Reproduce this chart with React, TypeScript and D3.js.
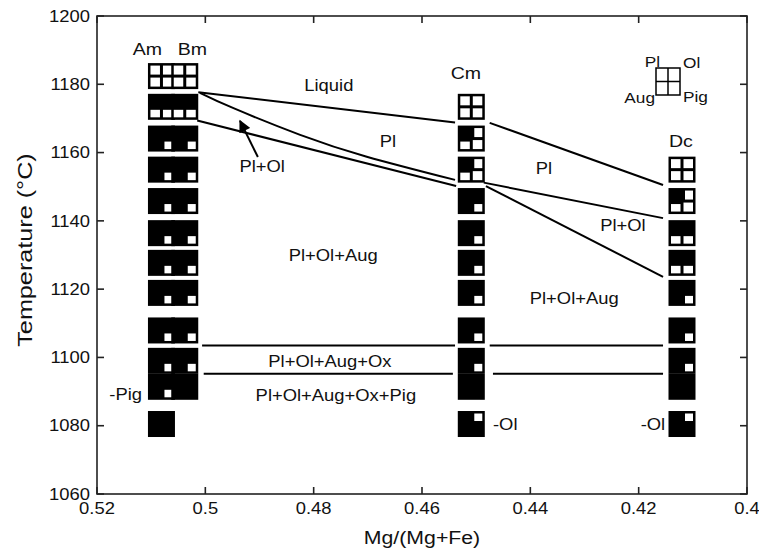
import React from 'react';
import * as d3 from 'd3';

const W = 759;
const H = 550;

const xTicks = [0.52, 0.5, 0.48, 0.46, 0.44, 0.42, 0.4];
const yTicks = [1060, 1080, 1100, 1120, 1140, 1160, 1180, 1200];

// run temperatures (°C), shared by all samples
const runTemps = [1182.4, 1173.4, 1164.1, 1155, 1145.8, 1136.4, 1127.7, 1118.9, 1107.9, 1099, 1091.4, 1080.5];

// phase flags per run: Pl Ol Aug Pig (1 = present), null = no run
const amRuns = ['0000', '1100', '1110', '1110', '1110', '1110', '1110', '1110', '1110', '1110', '1110', '1111'];
const bmRuns = ['0000', '1100', '1110', '1110', '1110', '1110', '1110', '1110', '1110', '1110', '1111', null];
const cmRuns = [null, '0000', '1000', '1000', '1110', '1110', '1110', '1110', '1110', '1110', '1111', '1011'];
const dcRuns = [null, null, null, '0000', '1000', '1100', '1100', '1110', '1110', '1110', '1111', '1011'];

const sampleNames = ['Am', 'Bm', 'Cm', 'Dc'];
const sampleMg = [0.5081, 0.5038, 0.4509, 0.412];
const sampleRuns = [amRuns, bmRuns, cmRuns, dcRuns];

// phase boundaries [Mg#, T]
const liquidusLeft = [[0.5013, 1177.7], [0.4539, 1168.8]];
const olInLeft = [[0.501, 1177.5], [0.4948, 1173], [0.4825, 1165.2], [0.4702, 1158.8], [0.4539, 1152]];
const augInLeft = [[0.5015, 1169.4], [0.4537, 1150.2]];
const liquidusRight = [[0.4475, 1168.7], [0.4155, 1150.5]];
const olInRight = [[0.4486, 1151.2], [0.4155, 1140.8]];
const augInRight = [[0.4482, 1150.2], [0.4155, 1123.6]];
const oxInLeft = [[0.5006, 1103.5], [0.4539, 1103.5]];
const oxInRight = [[0.4475, 1103.5], [0.4155, 1103.5]];
const pigInLeft = [[0.5003, 1095.2], [0.4543, 1095.2]];
const pigInRight = [[0.4469, 1095.2], [0.4155, 1095.2]];
const boundaries = [liquidusLeft, olInLeft, augInLeft, liquidusRight, olInRight, augInRight, oxInLeft, oxInRight, pigInLeft, pigInRight];

const fieldLabels = ['Liquid', 'Pl', 'Pl+Ol', 'Pl', 'Pl+Ol', 'Pl+Ol+Aug', 'Pl+Ol+Aug', 'Pl+Ol+Aug+Ox', 'Pl+Ol+Aug+Ox+Pig', '-Pig', '-Ol', '-Ol'];
const fieldMg = [0.4772, 0.4663, 0.4895, 0.4375, 0.4229, 0.4764, 0.4319, 0.477, 0.4759, 0.5147, 0.4469, 0.4151];
const fieldT = [1179.8, 1163.4, 1155.9, 1155.5, 1138.8, 1130, 1117.4, 1099, 1089, 1089.3, 1080.5, 1080.5];
const fieldAnchor = ['middle', 'middle', 'middle', 'middle', 'middle', 'middle', 'middle', 'middle', 'middle', 'middle', 'start', 'end'];

const labelMg = [0.5107, 0.5024, 0.4519, 0.4122];
const labelT = [1190.3, 1190.3, 1183.2, 1163.4];

const arrowFrom = [0.4903, 1158.7];
const arrowTo = [0.4936, 1169.3];

const x = d3.scaleLinear().domain([0.52, 0.4]).range([97, 747]);
const y = d3.scaleLinear().domain([1060, 1200]).range([494, 16]);
const line = d3.line<number[]>().x(d => x(d[0])).y(d => y(d[1]));
const curve = d3.line<number[]>().x(d => x(d[0])).y(d => y(d[1])).curve(d3.curveNatural);

const SX = 1.15;

function Txt({ px, py, text, anchor = 'middle', size = 16 }: any) {
  return (
    <text transform={`translate(${px},${py}) scale(${SX},1)`} textAnchor={anchor} dy="0.36em" fontSize={size}>
      {text}
    </text>
  );
}

function RunBox({ cx, cy, code }: any) {
  const bw = 27, bh = 26;
  const x0 = cx - bw / 2, y0 = cy - bh / 2;
  const cw = bw / 2, ch = bh / 2;
  const on = code.split('').map((c: string) => c === '1');
  const outer = 2.5, inner = 1.5, extra = 1.5;
  return (
    <g>
      <rect x={x0} y={y0} width={bw} height={bh} fill="#000" />
      {[0, 1, 2, 3].map(i => {
        if (on[i]) return null;
        const c = i % 2, r = Math.floor(i / 2);
        const hn = on[r * 2 + (1 - c)];
        const vn = on[(1 - r) * 2 + c];
        const l = c === 0 ? outer : inner + (hn ? extra : 0);
        const rt = c === 1 ? outer : inner + (hn ? extra : 0);
        const t = r === 0 ? outer : inner + (vn ? extra : 0);
        const b = r === 1 ? outer : inner + (vn ? extra : 0);
        return <rect key={i} x={x0 + c * cw + l} y={y0 + r * ch + t} width={cw - l - rt} height={ch - t - b} fill="#fff" />;
      })}
    </g>
  );
}

export default function App() {
  const [x0, x1] = x.range();
  const [y0, y1] = y.range();
  const tk = 7;
  return (
    <svg width={W} height={H} style={{ position: 'absolute', left: 0, top: 0, background: '#fff' }}
      fontFamily="'Liberation Sans', Arial, Helvetica, sans-serif" fill="#111">
      <defs>
        <marker id="ah" viewBox="0 0 10 10" refX="9" refY="5" markerWidth="7" markerHeight="6" orient="auto" markerUnits="strokeWidth">
          <path d="M0,0 L10,5 L0,10 z" fill="#000" />
        </marker>
      </defs>

      {/* boundaries */}
      <g fill="none" stroke="#000" strokeWidth={2}>
        {boundaries.map((b, i) => (
          <path key={i} d={(b.length > 2 ? curve(b) : line(b)) || ''} />
        ))}
        <path d={line([arrowFrom, arrowTo]) || ''} markerEnd="url(#ah)" />
      </g>

      {/* run symbols */}
      {sampleRuns.map((runs, s) => (
        <g key={s}>
          {runs.map((code, i) => code === null ? null : (
            <RunBox key={i} cx={x(sampleMg[s])} cy={y(runTemps[i])} code={code} />
          ))}
        </g>
      ))}

      {/* sample labels */}
      {sampleNames.map((n, i) => (
        <Txt key={n} px={x(labelMg[i])} py={y(labelT[i])} text={n} size={17} />
      ))}

      {/* field labels */}
      {fieldLabels.map((t, i) => (
        <Txt key={i} px={x(fieldMg[i])} py={y(fieldT[i])} text={t} anchor={fieldAnchor[i]} />
      ))}

      {/* key */}
      <g stroke="#000" strokeWidth={1.5} fill="none">
        <rect x={656} y={68} width={24} height={27} />
        <line x1={668} x2={668} y1={68} y2={95} />
        <line x1={656} x2={680} y1={81.5} y2={81.5} />
      </g>
      <Txt px={660} py={62} text="Pl" anchor="end" size={15} />
      <Txt px={683} py={63} text="Ol" anchor="start" size={15} />
      <Txt px={655} py={98} text="Aug" anchor="end" size={15} />
      <Txt px={683} py={97} text="Pig" anchor="start" size={15} />

      {/* axes frame and inward ticks */}
      <g stroke="#222" strokeWidth={1.6} fill="none">
        <rect x={x0} y={y1} width={x1 - x0} height={y0 - y1} />
        {yTicks.map(t => (
          <g key={t}>
            <line x1={x0} x2={x0 + tk} y1={y(t)} y2={y(t)} />
            <line x1={x1} x2={x1 - tk} y1={y(t)} y2={y(t)} />
          </g>
        ))}
        {xTicks.map(t => (
          <g key={t}>
            <line x1={x(t)} x2={x(t)} y1={y0} y2={y0 - tk} />
            <line x1={x(t)} x2={x(t)} y1={y1} y2={y1 + tk} />
          </g>
        ))}
      </g>
      {yTicks.map(t => (
        <Txt key={t} px={90} py={y(t)} text={String(t)} anchor="end" />
      ))}
      {xTicks.map(t => (
        <Txt key={t} px={x(t)} py={508} text={String(t)} />
      ))}
      <Txt px={422} py={537} text="Mg/(Mg+Fe)" size={18.5} />
      <text transform={`translate(24,250) rotate(-90) scale(1.2,1)`} textAnchor="middle" dy="0.36em" fontSize={21}>
        Temperature (°C)
      </text>
    </svg>
  );
}
